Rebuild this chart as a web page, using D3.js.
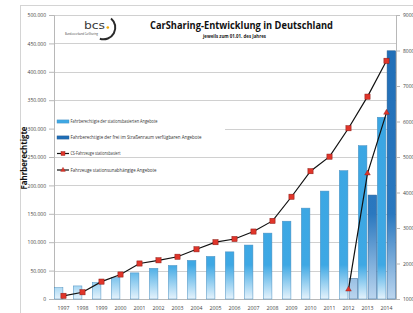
<!DOCTYPE html>
<html><head><meta charset="utf-8">
<script src="https://cdn.jsdelivr.net/npm/d3@7"></script>
<style>html,body{margin:0;padding:0;background:#fff;overflow:hidden}svg{display:block}</style>
</head><body>
<script>
const years = ["1997","1998","1999","2000","2001","2002","2003","2004","2005","2006","2007","2008","2009","2010","2011","2012","2013","2014"];
const usersStation = [20000,23000,29000,37500,46000,54000,59000,68000,75000,83000,95000,116000,137000,160000,190000,226000,270000,320000];
const usersFree = [null,null,null,null,null,null,null,null,null,null,null,null,null,null,null,36000,183000,437000];
const carsStation = [1090,1190,1490,1690,2000,2090,2190,2400,2600,2690,2900,3200,3880,4600,5010,5810,6700,7710];
const carsFree = [null,null,null,null,null,null,null,null,null,null,null,null,null,null,null,1270,4540,6250];
const leftTicks = [0,50000,100000,150000,200000,250000,300000,350000,400000,450000,500000];
const rightTicks = [1000,2000,3000,4000,5000,6000,7000,8000,9000];
const legendLabels = ["Fahrberechtigte der stationsbasierten Angebote","Fahrberechtigte der frei im Straßenraum verfügbaren Angebote","CS-Fahrzeuge stationsbasiert","Fahrzeuge stationsunabhängige Angebote"];
const titleText = "CarSharing-Entwicklung in Deutschland";
const subtitleText = "jeweils zum 01.01. des Jahres";
const yTitle = "Fahrberechtigte";

const W=413,H=313;
const font = "'Open Sans', 'Noto Sans', sans-serif";
const svg = d3.select("body").append("svg").attr("width",W).attr("height",H);
const defs = svg.append("defs");

const x = d3.scaleBand().domain(years).range([54,396]).paddingInner(0).paddingOuter(0);
const xs = d3.scaleBand().domain(["s","f"]).range([0,x.bandwidth()]).paddingInner(0.12).paddingOuter(0.03);
const yL = d3.scaleLinear().domain([0,500000]).range([299,15]);
const yR = d3.scaleLinear().domain([1000,9000]).range([299,15]);

// gradients
const gL = defs.append("linearGradient").attr("id","gL").attr("gradientUnits","userSpaceOnUse").attr("x1",0).attr("x2",0).attr("y1",15).attr("y2",299);
gL.append("stop").attr("offset","0").attr("stop-color","#38a4e2");
gL.append("stop").attr("offset","0.88").attr("stop-color","#3ea8e4");
gL.append("stop").attr("offset","1").attr("stop-color","#e6f3fc");
const gD = defs.append("linearGradient").attr("id","gD").attr("gradientUnits","userSpaceOnUse").attr("x1",0).attr("x2",0).attr("y1",15).attr("y2",299);
gD.append("stop").attr("offset","0").attr("stop-color","#1f6db6");
gD.append("stop").attr("offset","0.7").attr("stop-color","#2a78bf");
gD.append("stop").attr("offset","1").attr("stop-color","#bcd6ef");

// frame
svg.append("rect").attr("x",20.5).attr("y",5.5).attr("width",420).attr("height",330).attr("fill","none").attr("stroke","#d4d4d4");

// gridlines
svg.append("g").selectAll("line").data(leftTicks.slice(1)).join("line")
  .attr("x1",54).attr("x2",396).attr("y1",d=>Math.round(yL(d))+0.5).attr("y2",d=>Math.round(yL(d))+0.5)
  .attr("stroke","#d0d0d0").attr("stroke-width",1);

// legend background
svg.append("rect").attr("x",55).attr("y",112).attr("width",170).attr("height",36).attr("fill","#fff");

// left axis
const axL = svg.append("g").attr("transform","translate(54,0)")
  .call(d3.axisLeft(yL).tickValues(leftTicks).tickSize(5).tickPadding(3).tickFormat(d=>d3.format(",")(d).replace(/,/g,".")));
axL.select(".domain").attr("stroke","#b8b8b8");
axL.selectAll(".tick line").attr("stroke","#b8b8b8");
axL.selectAll("text").attr("font-family",font).attr("font-size","5px").attr("fill","#444");

// right axis
const axR = svg.append("g").attr("transform","translate(396,0)")
  .call(d3.axisRight(yR).tickValues(rightTicks).tickSize(4).tickPadding(3).tickFormat(d3.format("d")));
axR.select(".domain").attr("stroke","#b8b8b8");
axR.selectAll(".tick line").attr("stroke","#b8b8b8");
axR.selectAll("text").attr("font-family",font).attr("font-size","5px").attr("fill","#444");

// x axis
const axB = svg.append("g").attr("transform","translate(0,299)")
  .call(d3.axisBottom(x).tickSize(0).tickPadding(7));
axB.select(".domain").attr("stroke","#b8b8b8");
axB.selectAll("text").attr("font-family",font).attr("font-size","5.2px").attr("fill","#444");

// bars
svg.append("g").selectAll("rect").data(years.map((y,i)=>({y,v:usersStation[i]}))).join("rect")
  .attr("x",d=>x(d.y)+xs("s")).attr("width",xs.bandwidth())
  .attr("y",d=>yL(d.v)).attr("height",d=>yL(0)-yL(d.v))
  .attr("fill","url(#gL)").attr("stroke","#4d8fbf").attr("stroke-width",0.5);
svg.append("g").selectAll("rect").data(years.map((y,i)=>({y,v:usersFree[i]})).filter(d=>d.v!=null)).join("rect")
  .attr("x",d=>x(d.y)+xs("f")).attr("width",xs.bandwidth())
  .attr("y",d=>yL(d.v)).attr("height",d=>yL(0)-yL(d.v))
  .attr("fill","url(#gD)").attr("stroke","#2b5f8f").attr("stroke-width",0.5);

// lines
const cx = d=>x(d.y)+x.bandwidth()/2;
const line = d3.line().x(cx).y(d=>yR(d.v));
const s1 = years.map((y,i)=>({y,v:carsStation[i]}));
const s2 = years.map((y,i)=>({y,v:carsFree[i]})).filter(d=>d.v!=null);
svg.append("path").datum(s1).attr("d",line).attr("fill","none").attr("stroke","#111").attr("stroke-width",1.2);
svg.append("path").datum(s2).attr("d",line).attr("fill","none").attr("stroke","#111").attr("stroke-width",1.2);
svg.append("g").selectAll("rect").data(s1).join("rect")
  .attr("x",d=>cx(d)-2.6).attr("y",d=>yR(d.v)-2.6).attr("width",5.2).attr("height",5.2)
  .attr("fill","#e0352a").attr("stroke","#8a1a14").attr("stroke-width",0.5);
const tri = d3.symbol().type(d3.symbolTriangle).size(14);
svg.append("g").selectAll("path").data(s2).join("path")
  .attr("d",tri).attr("transform",d=>`translate(${cx(d)},${yR(d.v)})`)
  .attr("fill","#e0352a").attr("stroke","#8a1a14").attr("stroke-width",0.4);

// legend
const lg = svg.append("g");
const ly = [121.5,137.5,153.5,170];
lg.append("rect").attr("x",57).attr("y",ly[0]-1.6).attr("width",12).attr("height",3.2).attr("fill","#3ea8e4").attr("stroke","#4d8fbf").attr("stroke-width",0.4);
lg.append("rect").attr("x",57).attr("y",ly[1]-1.6).attr("width",12).attr("height",3.2).attr("fill","#1f6db6").attr("stroke","#2b5f8f").attr("stroke-width",0.4);
lg.append("line").attr("x1",57).attr("x2",69).attr("y1",ly[2]).attr("y2",ly[2]).attr("stroke","#111").attr("stroke-width",1.2);
lg.append("rect").attr("x",61).attr("y",ly[2]-2).attr("width",4).attr("height",4).attr("fill","#e0352a").attr("stroke","#8a1a14").attr("stroke-width",0.4);
lg.append("line").attr("x1",57).attr("x2",69).attr("y1",ly[3]).attr("y2",ly[3]).attr("stroke","#111").attr("stroke-width",1.2);
lg.append("path").attr("d",d3.symbol().type(d3.symbolTriangle).size(10)).attr("transform",`translate(63,${ly[3]})`).attr("fill","#e0352a").attr("stroke","#8a1a14").attr("stroke-width",0.3);
const lw = [87,131,50,86];
lg.selectAll("text").data(legendLabels).join("text")
  .attr("x",70.5).attr("y",(d,i)=>ly[i]+1.6).text(d=>d)
  .attr("font-family",font).attr("font-size","4.6px").attr("fill","#333")
  .attr("textLength",(d,i)=>lw[i]).attr("lengthAdjust","spacingAndGlyphs");

// title
svg.append("text").attr("x",241.5).attr("y",29).attr("text-anchor","middle").text(titleText)
  .attr("font-family",font).attr("font-weight","bold").attr("font-size","10.5px").attr("fill","#111")
  .attr("textLength",183).attr("lengthAdjust","spacingAndGlyphs");
svg.append("text").attr("x",234.5).attr("y",38).attr("text-anchor","middle").text(subtitleText)
  .attr("font-family",font).attr("font-weight","bold").attr("font-size","4.8px").attr("fill","#222")
  .attr("textLength",63).attr("lengthAdjust","spacingAndGlyphs");

// y title
svg.append("text").attr("transform","translate(27,158) rotate(-90)").attr("text-anchor","middle").text(yTitle)
  .attr("font-family",font).attr("font-weight","bold").attr("font-size","8.5px").attr("fill","#111")
  .attr("textLength",63).attr("lengthAdjust","spacingAndGlyphs");

// logo
const logo = svg.append("g");
logo.append("text").attr("x",84).attr("y",28.5).text("bcs")
  .attr("font-family","'DejaVu Sans', sans-serif").attr("font-size","11px").attr("fill","#3a3a3a")
  .attr("textLength",21).attr("lengthAdjust","spacingAndGlyphs");
logo.append("circle").attr("cx",107.8).attr("cy",27.5).attr("r",1.3).attr("fill","#f2a900");
logo.append("path").attr("transform","translate(103.5,27.5)")
  .attr("d",d3.arc().innerRadius(10.8).outerRadius(12.8).startAngle(Math.PI*0.22).endAngle(Math.PI*1.1)())
  .attr("fill","#2a2a2a");
logo.append("text").attr("x",65).attr("y",34.5).text("Bundesverband CarSharing")
  .attr("font-family",font).attr("font-size","3px").attr("fill","#444")
  .attr("textLength",33).attr("lengthAdjust","spacingAndGlyphs");
</script>
</body></html>
